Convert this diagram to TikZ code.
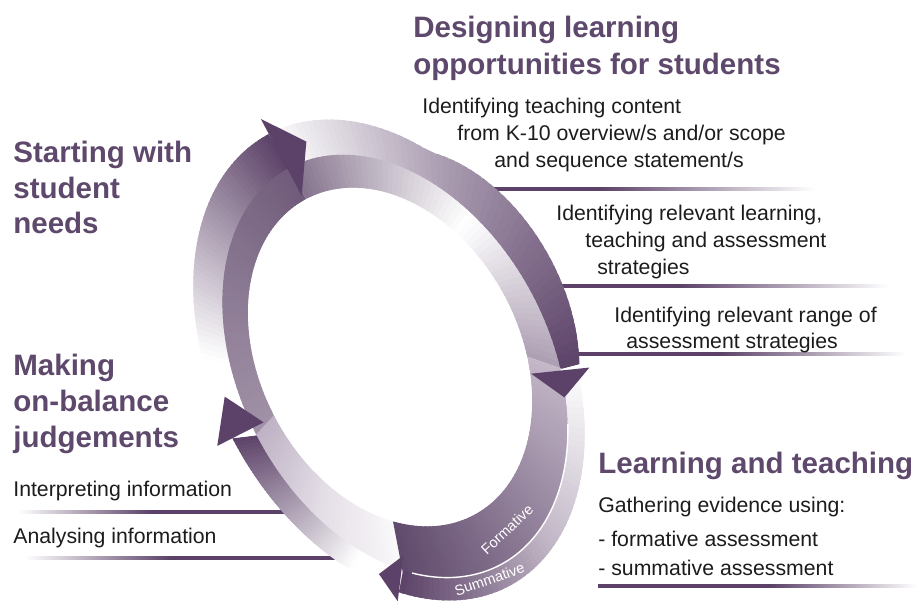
\documentclass[tikz,border=0pt]{standalone}
\usepackage{fontspec}
\setmainfont{Liberation Sans}
\definecolor{ttl}{RGB}{94,72,108}
\definecolor{pd}{RGB}{92,66,104}
\definecolor{txt}{RGB}{28,28,28}
\definecolor{oM}{RGB}{190,179,195}
\definecolor{oN}{RGB}{168,154,175}
\definecolor{iAa}{RGB}{250,249,250}
\definecolor{iAb}{RGB}{228,222,231}
\definecolor{iAc}{RGB}{190,178,196}
\definecolor{iBa}{RGB}{160,145,166}
\definecolor{iBb}{RGB}{138,120,146}
\definecolor{iBc}{RGB}{112,92,122}
\definecolor{iCa}{RGB}{132,114,140}
\definecolor{iCc}{RGB}{172,158,178}
\definecolor{iDa}{RGB}{196,184,201}
\definecolor{iDb}{RGB}{150,133,158}
\definecolor{iDc}{RGB}{96,74,108}
% point on tilted ellipse: cx, cy, a, b, bulge, t
\newcommand\EPT[6]{%
  \pgfmathsetmacro\eQ{(#6-262)/32}%
  \pgfmathsetmacro\eS{1+(#5)*max(0,1-(\eQ)*(\eQ))}%
  \pgfmathsetmacro\ePx{#1+\eS*((#3)*cos(#6)*0.46947-(#4)*sin(#6)*0.88295)}%
  \pgfmathsetmacro\ePy{#2+\eS*((#3)*cos(#6)*0.88295+(#4)*sin(#6)*0.46947)}}
\newcommand\getpt[4]{\expandafter\EPT#1{#2}\let#3\ePx\let#4\ePy}
\def\Lh{{390}{357}{179}{130}{0}}
\def\Ld{{395}{366}{225}{155}{0}}
\def\Ldp{{395}{366}{227}{157}{0}}
\def\Lo{{389}{360}{256}{175}{0.09}}
% band: inner level, outer level, t0, t1, c0, c1, c2, fm
\newcommand\band[8]{%
  \foreach \k in {0,...,59}{%
    \pgfmathsetmacro\tA{#3+(#4-#3)*\k/60}%
    \pgfmathsetmacro\tB{min(#4,#3+(#4-#3)*(\k+1.7)/60)}%
    \pgfmathsetmacro\fF{(\k+0.5)/60}%
    \pgfmathtruncatemacro\fLg{\fF<#8}%
    \ifnum\fLg=1
      \pgfmathsetmacro\pP{100*\fF/#8}\colorlet{cc}{#6!\pP!#5}%
    \else
      \pgfmathsetmacro\pP{100*(\fF-#8)/(1-#8)}\colorlet{cc}{#7!\pP!#6}%
    \fi
    \getpt#1\tA\xA\yA
    \getpt#1\tB\xB\yB
    \getpt#2\tB\xC\yC
    \getpt#2\tA\xD\yD
    \fill[cc] (\xA,\yA) -- (\xB,\yB) -- (\xC,\yC) -- (\xD,\yD) -- cycle;
  }}
% arrow head: base t, tip t, inner barb offset, outer barb offset, tip offset (from outer edge)
\newcommand\ahead[5]{%
  \EPT{389}{360}{256+(#3)}{175+(#3)}{0.09}{#1}\let\xA\ePx\let\yA\ePy
  \EPT{389}{360}{256+(#4)}{175+(#4)}{0.09}{#1}\let\xB\ePx\let\yB\ePy
  \EPT{389}{360}{256+(#5)}{175+(#5)}{0.09}{#2}\let\xC\ePx\let\yC\ePy
  \fill[pd] (\xA,\yA) -- (\xB,\yB) -- (\xC,\yC) -- cycle;}
\newcommand\rline[4]{%
  \fill[pd] (#1,#4-1.7) rectangle (#2,#4+1.7);
  \shade[left color=pd,right color=white] (#2,#4-1.7) rectangle (#3,#4+1.7);}
\newcommand\lline[4]{%
  \shade[left color=white,right color=pd] (#1,#4-1.7) rectangle (#2,#4+1.7);
  \fill[pd] (#2,#4-1.7) rectangle (#3,#4+1.7);}
% word on the ring: a, b, t, word, name
\newcommand\arcword[5]{%
  \pgfmathsetmacro\lX{395+#1*cos(#3)*0.46947-#2*sin(#3)*0.88295}%
  \pgfmathsetmacro\lY{366+#1*cos(#3)*0.88295+#2*sin(#3)*0.46947}%
  \pgfmathsetmacro\lDx{-#1*sin(#3)*0.46947-#2*cos(#3)*0.88295}%
  \pgfmathsetmacro\lDy{-#1*sin(#3)*0.88295+#2*cos(#3)*0.46947}%
  \pgfmathsetmacro\lAng{atan2(\lDy,-\lDx)}%
  \node[ringword,rotate=\lAng] (#5) at (\lX,\lY) {#4};}
\begin{document}
\begin{tikzpicture}[x=0.02cm,y=-0.02cm,
  ttlnode/.style={anchor=base west,inner sep=0pt,text=ttl,font=\fontsize{16.8}{20}\selectfont\bfseries},
  bodynode/.style={anchor=base west,inner sep=0pt,text=txt,font=\fontsize{12.1}{14}\selectfont},
  ringword/.style={anchor=base,inner sep=0pt,text=white,font=\fontsize{8.3}{9}\selectfont}]
\useasboundingbox (0,0) rectangle (918,600);
% underlines (beneath ring)
\rline{470}{600}{815}{189}
\rline{540}{680}{888}{286}
\rline{560}{720}{906}{354}
\rline{598}{770}{917}{586}
\lline{18}{150}{300}{512}
\lline{25}{170}{340}{558}
% ring arrows
\band\Lh\Ldp{35}{91}{iAa}{iAb}{iAc}{0.5}
\band\Ld\Lo{35}{91}{white}{white}{pd}{0.25}
\band\Lh\Ldp{91}{180}{iBa}{iBb}{iBc}{0.5}
\band\Ld\Lo{91}{180}{white}{white}{pd}{0.22}
\band\Lh\Ldp{180}{291}{iCa}{white}{iCc}{0.58}
\band\Ld\Lo{180}{291}{white}{oN}{pd}{0.5}
\band\Lh\Ldp{291}{395}{iDa}{iDb}{iDc}{0.45}
\band\Ld\Lo{291}{395}{white}{oM}{pd}{0.5}
\draw[white,line width=0.8pt] plot[smooth,domain=306:392,samples=45]
  ({395+225*cos(\x)*0.46947-155*sin(\x)*0.88295},{366+225*cos(\x)*0.88295+155*sin(\x)*0.46947});
\arcword{205}{135}{350}{Formative}{fw}
\arcword{239}{167}{366}{Summative}{sw}
\ahead{91}{100.5}{-35}{17}{-10}
\ahead{180}{191}{-70}{17}{-20}
\ahead{292}{299}{-48}{10}{-18}
\ahead{395}{401.5}{-37}{9}{-10}
% titles
\node[ttlnode] (d1) at (413,37) {Designing learning};
\node[ttlnode] (d2) at (413,74) {opportunities for students};
\node[ttlnode] (s1) at (13,162) {Starting with};
\node[ttlnode] (s2) at (13,198) {student};
\node[ttlnode] (s3) at (13,233) {needs};
\node[ttlnode] (m1) at (13,375) {Making};
\node[ttlnode] (m2) at (13,411) {on-balance};
\node[ttlnode] (m3) at (13,447) {judgements};
\node[ttlnode] (l1) at (598,473) {Learning and teaching};
% body text
\node[bodynode] (a1) at (422,113) {Identifying teaching content};
\node[bodynode] (a2) at (457,140) {from K-10 overview/s and/or scope};
\node[bodynode] (a3) at (494,167) {and sequence statement/s};
\node[bodynode] (b1) at (556,220) {Identifying relevant learning,};
\node[bodynode] (b2) at (585,247) {teaching and assessment};
\node[bodynode] (b3) at (597,274) {strategies};
\node[bodynode] (c1) at (614,322) {Identifying relevant range of};
\node[bodynode] (c2) at (626,348) {assessment strategies};
\node[bodynode] (g1) at (598,512) {Gathering evidence using:};
\node[bodynode] (g2) at (598,546) {- formative assessment};
\node[bodynode] (g3) at (598,575) {- summative assessment};
\node[bodynode] (i1) at (13,496) {Interpreting information};
\node[bodynode] (i2) at (13,543) {Analysing information};
\end{tikzpicture}
\end{document}
